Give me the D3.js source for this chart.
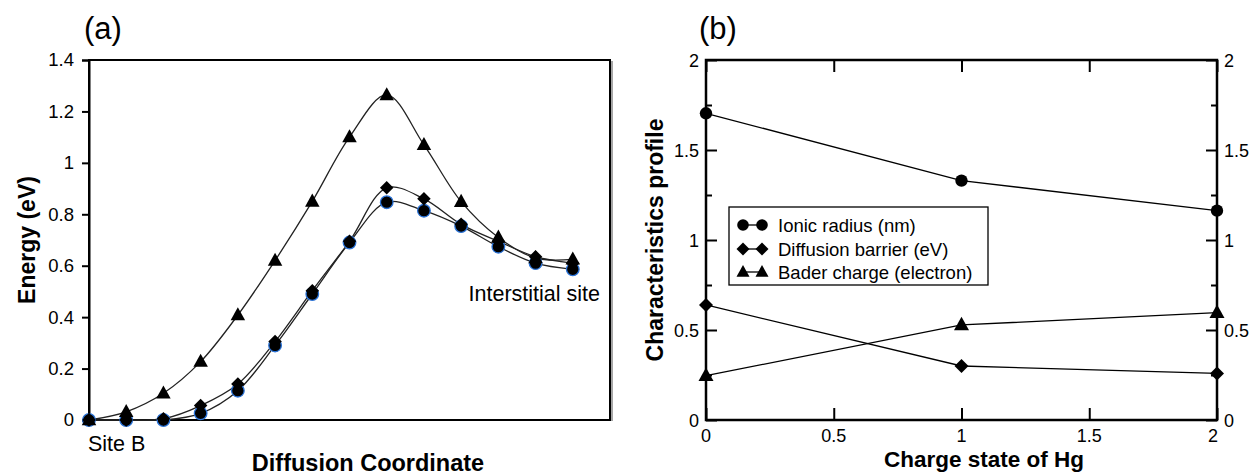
<!DOCTYPE html>
<html><head><meta charset="utf-8">
<script src="https://cdn.jsdelivr.net/npm/d3@7"></script>
<style>
body{margin:0;background:#fff;}
text{font-family:"Liberation Sans",Arial,sans-serif;fill:#000;}
</style></head>
<body><svg id="c" width="1252" height="475"></svg>
<script>
// ---------- Data: panel (a) ----------
const pathIndex = [0,1,2,3,4,5,6,7,8,9,10,11,12,13];
const energyCircle  = [0,0,0,0.026,0.114,0.29,0.49,0.69,0.847,0.814,0.754,0.674,0.61,0.586];
const energyDiamond = [0,0,0.005,0.056,0.14,0.305,0.503,0.695,0.903,0.86,0.761,0.695,0.635,0.61];
const energyTriangle= [0,0.032,0.104,0.227,0.408,0.62,0.85,1.10,1.264,1.07,0.849,0.71,0.63,0.625];
const energyTicks = [0,0.2,0.4,0.6,0.8,1,1.2,1.4];
const energyTickLabels = ["0","0.2","0.4","0.6","0.8","1","1.2","1.4"];

// ---------- Data: panel (b) ----------
const chargeStates = [0,1,2];
const ionicRadius = [1.704,1.33,1.163];
const diffusionBarrier = [0.639,0.30,0.259];
const baderCharge = [0.246,0.528,0.596];
const profileTicks = [0,0.5,1,1.5,2];
const profileTickLabels = ["0","0.5","1","1.5","2"];
const chargeTicks = [0,0.5,1,1.5,2];
const chargeTickLabels = ["0","0.5","1","1.5","2"];
const legendNames = ["Ionic radius (nm)","Diffusion barrier (eV)","Bader charge (electron)"];

const svg = d3.select("#c");

function triangle(s){
  const h = s*0.9;
  return `M0,${-h*0.6}L${s/2},${h*0.4}L${-s/2},${h*0.4}Z`;
}
function diamond(s){
  return `M0,${-s/2}L${s/2},0L0,${s/2}L${-s/2},0Z`;
}

// ===================== Panel (a) =====================
{
  const L=89,R=610,T=60,B=420;
  const x = d3.scaleLinear().domain([0,14]).range([L,R]);
  const y = d3.scaleLinear().domain([0,1.4]).range([B,T]);
  const g = svg.append("g");

  g.append("rect").attr("x",L).attr("y",T).attr("width",R-L).attr("height",B-T)
    .attr("fill","none").attr("stroke","#000").attr("stroke-width",2);
  g.append("line").attr("x1",R+2).attr("x2",R+2).attr("y1",T+1).attr("y2",B+1)
    .attr("stroke","#888").attr("stroke-width",1.5);

  const ax = d3.axisLeft(y).tickValues(energyTicks).tickSize(7)
    .tickFormat((d,i)=>energyTickLabels[i]);
  const ag = g.append("g").attr("transform",`translate(${L},0)`).call(ax);
  ag.select(".domain").attr("stroke","#000").attr("stroke-width",2);
  ag.selectAll(".tick line").attr("stroke","#000").attr("stroke-width",2);
  ag.selectAll(".tick text").attr("font-size",18.5).attr("x",-15).attr("fill","#000")
    .style("font-family","'Liberation Sans',Arial,sans-serif");

  const line = d3.line().x((d,i)=>x(pathIndex[i])).y(d=>y(d)).curve(d3.curveCatmullRom.alpha(0.5));
  [energyCircle,energyDiamond,energyTriangle].forEach(s=>{
    g.append("path").attr("d",line(s)).attr("fill","none").attr("stroke","#222").attr("stroke-width",1.3);
  });
  g.selectAll(".ci").data(energyCircle).join("circle")
    .attr("cx",(d,i)=>x(pathIndex[i])).attr("cy",d=>y(d)).attr("r",6.3)
    .attr("fill","#000").attr("stroke","#2a73d8").attr("stroke-width",1.3);
  g.selectAll(".di").data(energyDiamond).join("path")
    .attr("transform",(d,i)=>`translate(${x(pathIndex[i])},${y(d)})`)
    .attr("d",diamond(13.5)).attr("fill","#000");
  g.selectAll(".tr").data(energyTriangle).join("path")
    .attr("transform",(d,i)=>`translate(${x(pathIndex[i])},${y(d)})`)
    .attr("d",triangle(14.5)).attr("fill","#000");

  g.append("text").attr("x",84).attr("y",39).attr("font-size",31).text("(a)");
  g.append("text").attr("x",88).attr("y",451).attr("font-size",21.5).text("Site B");
  g.append("text").attr("x",600).attr("y",301).attr("font-size",21.5).attr("text-anchor","end").text("Interstitial site");
  g.append("text").attr("x",368).attr("y",471).attr("font-size",23.5).attr("font-weight","bold")
    .attr("text-anchor","middle").text("Diffusion Coordinate");
  g.append("text").attr("transform",`translate(35,${(T+B)/2}) rotate(-90)`).attr("font-size",23)
    .attr("font-weight","bold").attr("text-anchor","middle").text("Energy (eV)");
}

// ===================== Panel (b) =====================
{
  const L=706,R=1217,T=60,B=420;
  const x = d3.scaleLinear().domain([0,2]).range([L,R]);
  const y = d3.scaleLinear().domain([0,2]).range([B,T]);
  const g = svg.append("g");

  g.append("rect").attr("x",L).attr("y",T).attr("width",R-L).attr("height",B-T)
    .attr("fill","none").attr("stroke","#000").attr("stroke-width",2.5);

  const minor = [0.25,0.75,1.25,1.75];
  const axL = g.append("g").attr("transform",`translate(${L},0)`)
    .call(d3.axisRight(y).tickValues(profileTicks).tickSize(11).tickFormat(""));
  const axLm = g.append("g").attr("transform",`translate(${L},0)`)
    .call(d3.axisRight(y).tickValues(minor).tickSize(6).tickFormat(""));
  const axR = g.append("g").attr("transform",`translate(${R},0)`)
    .call(d3.axisLeft(y).tickValues(profileTicks).tickSize(11).tickFormat(""));
  const axRm = g.append("g").attr("transform",`translate(${R},0)`)
    .call(d3.axisLeft(y).tickValues(minor).tickSize(6).tickFormat(""));
  const axB = g.append("g").attr("transform",`translate(0,${B})`)
    .call(d3.axisTop(x).tickValues(chargeTicks).tickSize(12).tickFormat(""));
  const axT = g.append("g").attr("transform",`translate(0,${T})`)
    .call(d3.axisBottom(x).tickValues(chargeTicks).tickSize(12).tickFormat(""));
  [axL,axLm,axR,axRm,axB,axT].forEach(a=>{
    a.select(".domain").remove();
    a.selectAll(".tick line").attr("stroke","#000").attr("stroke-width",2);
  });
  profileTicks.forEach((v,i)=>{
    g.append("text").attr("x",L-7).attr("y",y(v)+6.5).attr("font-size",18).attr("text-anchor","end").text(profileTickLabels[i]);
    g.append("text").attr("x",R+7).attr("y",y(v)+6.5).attr("font-size",18).attr("text-anchor","start").text(profileTickLabels[i]);
  });
  chargeTicks.forEach((v,i)=>{
    g.append("text").attr("x",x(v)-(i===4?4:0)).attr("y",B+22).attr("font-size",18).attr("text-anchor","middle").text(chargeTickLabels[i]);
  });

  const line = d3.line().x((d,i)=>x(chargeStates[i])).y(d=>y(d));
  [ionicRadius,diffusionBarrier,baderCharge].forEach(s=>{
    g.append("path").attr("d",line(s)).attr("fill","none").attr("stroke","#000").attr("stroke-width",1.3);
  });
  g.selectAll(".ci").data(ionicRadius).join("circle")
    .attr("cx",(d,i)=>x(chargeStates[i])).attr("cy",d=>y(d)).attr("r",6.2).attr("fill","#000");
  g.selectAll(".di").data(diffusionBarrier).join("path")
    .attr("transform",(d,i)=>`translate(${x(chargeStates[i])},${y(d)})`).attr("d",diamond(14)).attr("fill","#000");
  g.selectAll(".tr").data(baderCharge).join("path")
    .attr("transform",(d,i)=>`translate(${x(chargeStates[i])},${y(d)})`).attr("d",triangle(15)).attr("fill","#000");

  const lg = g.append("g");
  lg.append("rect").attr("x",729).attr("y",207).attr("width",259).attr("height",78)
    .attr("fill","#fff").attr("stroke","#000").attr("stroke-width",1.3);
  const ly = [225,249,272];
  const mk = [
    s=>s.append("circle").attr("r",5.8),
    s=>s.append("path").attr("d",diamond(13)),
    s=>s.append("path").attr("d",triangle(13))
  ];
  legendNames.forEach((n,i)=>{
    lg.append("line").attr("x1",743).attr("x2",762).attr("y1",ly[i]).attr("y2",ly[i]).attr("stroke","#000").attr("stroke-width",1.3);
    [743,762].forEach(px=>{
      const s = lg.append("g").attr("transform",`translate(${px},${ly[i]})`).attr("fill","#000");
      mk[i](s);
    });
    lg.append("text").attr("x",778).attr("y",ly[i]+6.5).attr("font-size",18.5).text(n);
  });

  g.append("text").attr("x",699).attr("y",39).attr("font-size",31).text("(b)");
  g.append("text").attr("x",984).attr("y",467).attr("font-size",22.5).attr("font-weight","bold")
    .attr("text-anchor","middle").text("Charge state of Hg");
  g.append("text").attr("transform",`translate(663,${(T+B)/2}) rotate(-90)`).attr("font-size",23)
    .attr("font-weight","bold").attr("text-anchor","middle").text("Characteristics profile");
}
</script></body></html>
